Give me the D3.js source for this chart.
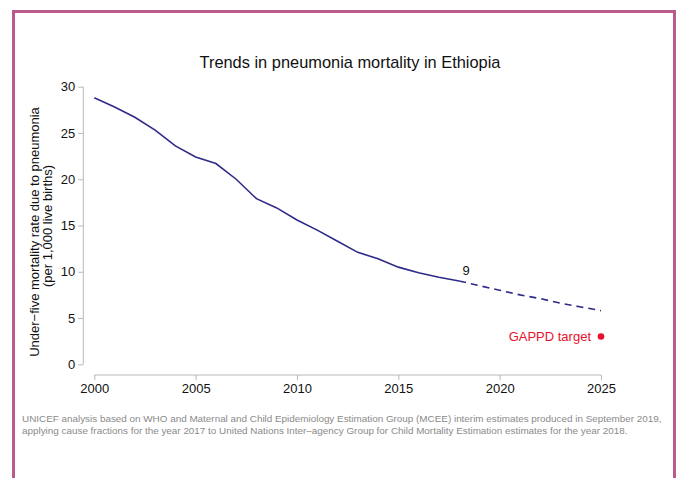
<!DOCTYPE html>
<html><head><meta charset="utf-8">
<script src="https://cdn.jsdelivr.net/npm/d3@7"></script>
<style>body{margin:0;background:#fff;}svg{display:block;font-family:"Liberation Sans",Arial,sans-serif;}</style>
</head><body>
<svg id="c" width="681" height="478"></svg>
<script>
const years = [2000,2001,2002,2003,2004,2005,2006,2007,2008,2009,2010,2011,2012,2013,2014,2015,2016,2017,2018];
const rates = [28.8,27.8,26.7,25.3,23.6,22.4,21.7,20.0,17.9,16.9,15.6,14.5,13.3,12.1,11.4,10.5,9.9,9.4,9.0];
const projYears = [2018,2019,2020,2021,2022,2023,2024,2025];
const projRates = [9.0,8.5,8.0,7.5,7.1,6.6,6.2,5.8];
const targetYear = 2025, targetValue = 3;
const xTicks = [2000,2005,2010,2015,2020,2025];
const yTicks = [0,5,10,15,20,25,30];

const svg = d3.select("#c");
svg.append("path").attr("d","M13.5,480 V11.5 H674.5 V480").attr("fill","none").attr("stroke","#bb5a8c").attr("stroke-width",3);

const x = d3.scaleLinear().domain([2000,2025]).range([94.3,601]);
const y = d3.scaleLinear().domain([0,30]).range([364.3,86.7]);
const axisCol = "#b8b8b8";

const ya = svg.append("g").attr("transform","translate(83.3,0)")
  .call(d3.axisLeft(y).tickValues(yTicks).tickSize(5).tickPadding(3));
ya.select(".domain").attr("stroke",axisCol).attr("d",`M0,${y(0)}V${y(30)}`);
ya.selectAll(".tick line").attr("stroke",axisCol);
ya.selectAll(".tick text").attr("font-size",13).attr("fill","#111").attr("font-family","Liberation Sans, Arial, sans-serif");

const xa = svg.append("g").attr("transform","translate(0,375)")
  .call(d3.axisBottom(x).tickValues(xTicks).tickFormat(d3.format("d")).tickSize(5).tickPadding(4));
xa.select(".domain").attr("stroke",axisCol).attr("d",`M${x(2000)},0H${x(2025)}`);
xa.selectAll(".tick line").attr("stroke",axisCol);
xa.selectAll(".tick text").attr("font-size",13).attr("fill","#111").attr("font-family","Liberation Sans, Arial, sans-serif");

const line = d3.line().x(d=>x(d[0])).y(d=>y(d[1]));
const lineCol = "#2e2a87";
svg.append("path").datum(years.map((d,i)=>[d,rates[i]])).attr("d",line)
  .attr("fill","none").attr("stroke",lineCol).attr("stroke-width",1.6);
svg.append("path").datum(projYears.map((d,i)=>[d,projRates[i]])).attr("d",line)
  .attr("fill","none").attr("stroke",lineCol).attr("stroke-width",1.6).attr("stroke-dasharray","7,5");

svg.append("text").attr("x",x(2018)+7).attr("y",y(rates[rates.length-1])-6)
  .attr("text-anchor","middle").attr("font-size",13).attr("fill","#111").text("9");

svg.append("circle").attr("cx",x(targetYear)).attr("cy",y(targetValue)).attr("r",3.3).attr("fill","#e8112d");
svg.append("text").attr("x",x(targetYear)-10).attr("y",y(targetValue)+4.5)
  .attr("text-anchor","end").attr("font-size",13).attr("fill","#e8112d").text("GAPPD target");

svg.append("text").attr("x",350).attr("y",68).attr("text-anchor","middle").attr("font-size",16.4).attr("fill","#111")
  .text("Trends in pneumonia mortality in Ethiopia");

const yl = svg.append("text").attr("font-size",13).attr("fill","#111").attr("text-anchor","middle");
yl.append("tspan").attr("x",-232).attr("y",39).text("Under\u2212five mortality rate due to pneumonia");
yl.append("tspan").attr("x",-226).attr("y",52).text("(per 1,000 live births)");
yl.attr("transform","rotate(-90)");

const fn = svg.append("text").attr("font-size",9.9).attr("fill","#8a8a8a");
fn.append("tspan").attr("x",22).attr("y",422).text("UNICEF analysis based on WHO and Maternal and Child Epidemiology Estimation Group (MCEE) interim estimates produced in September 2019,");
fn.append("tspan").attr("x",22).attr("y",434).text("applying cause fractions for the year 2017 to United Nations Inter\u2013agency Group for Child Mortality Estimation estimates for the year 2018.");
</script>
</body></html>
